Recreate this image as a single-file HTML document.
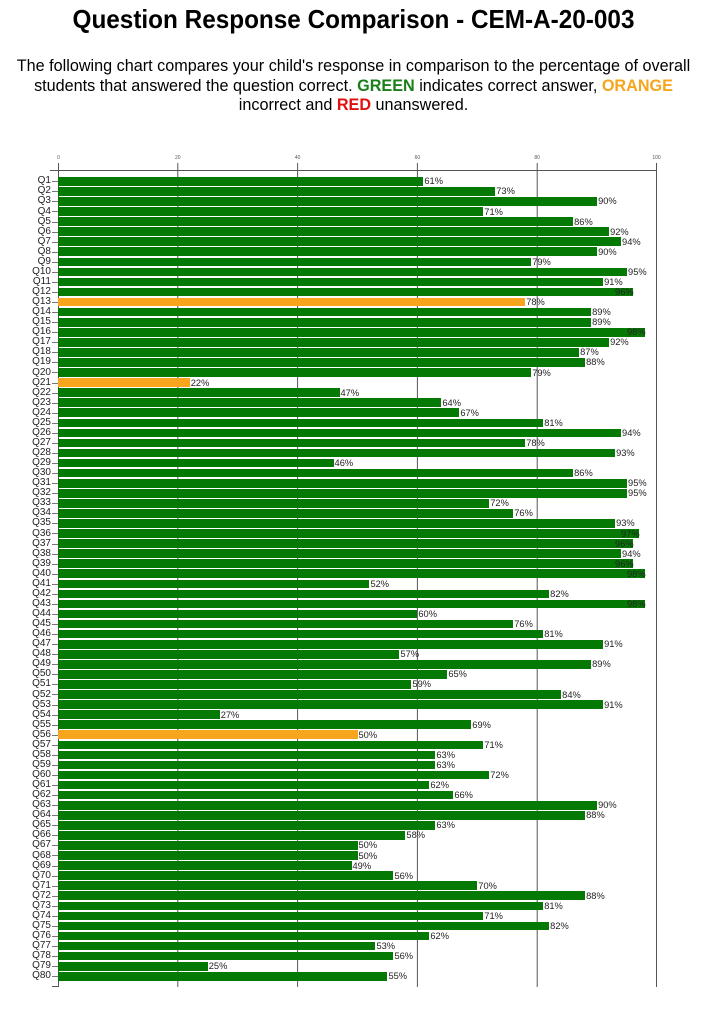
<!DOCTYPE html>
<html><head><meta charset="utf-8"><style>
body{margin:0;width:707px;height:1024px;background:#fff;position:relative;overflow:hidden;font-family:"Liberation Sans",sans-serif;color:#000}
.t{position:absolute;left:0;width:707px;text-align:center;white-space:nowrap}
.t span.s{display:inline-block;transform-origin:center}
#title{top:4px;font-size:26px;font-weight:bold}
#title span.s{transform:scaleX(0.935)}
.sub{font-size:16.2px;line-height:19.5px}
.sub span.s{transform:scaleX(1.0)}
#chart{position:absolute;left:58px;top:176.3px;width:599px}
.r{height:10.063px;display:flex;align-items:center;position:relative}
.r b{position:absolute;left:-40px;width:33px;text-align:right;font-weight:normal;font-size:10px;line-height:10px;color:#222}
.r:before{content:"";position:absolute;left:-6px;width:6px;top:5px;height:1px;background:#777}
.r i{display:block;height:8.6px;background:#047a04;flex:none}
.r i.o{background:#f7a51c}
.r span{font-size:9.3px;margin-left:1px;color:#222;white-space:nowrap}
</style></head><body>
<svg style="position:absolute;left:0;top:0" width="707" height="1024">
<g stroke="#555" stroke-width="1">
<line x1="50" y1="170.5" x2="657" y2="170.5"/>
<line x1="58.5" y1="163" x2="58.5" y2="987"/>
<line x1="177.8" y1="163" x2="177.8" y2="987"/>
<line x1="297.6" y1="163" x2="297.6" y2="987"/>
<line x1="417.4" y1="163" x2="417.4" y2="987"/>
<line x1="537.2" y1="163" x2="537.2" y2="987"/>
<line x1="656.5" y1="163" x2="656.5" y2="987"/>
<line x1="52" y1="986.5" x2="58" y2="986.5"/>
</g>
<g font-size="5" fill="#555" text-anchor="middle" font-family="Liberation Sans,sans-serif">
<text x="58.5" y="159">0</text><text x="177.8" y="159">20</text><text x="297.6" y="159">40</text><text x="417.4" y="159">60</text><text x="537.2" y="159">80</text><text x="656.5" y="159">100</text>
</g>
</svg>
<div class="t" id="title"><span class="s">Question Response Comparison - CEM-A-20-003</span></div>
<div class="t sub" style="top:57px"><span class="s">The following chart compares your child's response in comparison to the percentage of overall</span></div>
<div class="t sub" style="top:76.5px"><span class="s">students that answered the question correct. <b style="color:#1a7f1a">GREEN</b> indicates correct answer, <b style="color:#f7a51c">ORANGE</b></span></div>
<div class="t sub" style="top:96px"><span class="s">incorrect and <b style="color:#e01010">RED</b> unanswered.</span></div>
<div id="chart">
<div class="r"><b>Q1</b><i style="width:61%"></i><span>61%</span></div>
<div class="r"><b>Q2</b><i style="width:73%"></i><span>73%</span></div>
<div class="r"><b>Q3</b><i style="width:90%"></i><span>90%</span></div>
<div class="r"><b>Q4</b><i style="width:71%"></i><span>71%</span></div>
<div class="r"><b>Q5</b><i style="width:86%"></i><span>86%</span></div>
<div class="r"><b>Q6</b><i style="width:92%"></i><span>92%</span></div>
<div class="r"><b>Q7</b><i style="width:94%"></i><span>94%</span></div>
<div class="r"><b>Q8</b><i style="width:90%"></i><span>90%</span></div>
<div class="r"><b>Q9</b><i style="width:79%"></i><span>79%</span></div>
<div class="r"><b>Q10</b><i style="width:95%"></i><span>95%</span></div>
<div class="r"><b>Q11</b><i style="width:91%"></i><span>91%</span></div>
<div class="r"><b>Q12</b><i style="width:96%"></i><span style="margin-left:-18px">96%</span></div>
<div class="r"><b>Q13</b><i class="o" style="width:78%"></i><span>78%</span></div>
<div class="r"><b>Q14</b><i style="width:89%"></i><span>89%</span></div>
<div class="r"><b>Q15</b><i style="width:89%"></i><span>89%</span></div>
<div class="r"><b>Q16</b><i style="width:98%"></i><span style="margin-left:-18px">98%</span></div>
<div class="r"><b>Q17</b><i style="width:92%"></i><span>92%</span></div>
<div class="r"><b>Q18</b><i style="width:87%"></i><span>87%</span></div>
<div class="r"><b>Q19</b><i style="width:88%"></i><span>88%</span></div>
<div class="r"><b>Q20</b><i style="width:79%"></i><span>79%</span></div>
<div class="r"><b>Q21</b><i class="o" style="width:22%"></i><span>22%</span></div>
<div class="r"><b>Q22</b><i style="width:47%"></i><span>47%</span></div>
<div class="r"><b>Q23</b><i style="width:64%"></i><span>64%</span></div>
<div class="r"><b>Q24</b><i style="width:67%"></i><span>67%</span></div>
<div class="r"><b>Q25</b><i style="width:81%"></i><span>81%</span></div>
<div class="r"><b>Q26</b><i style="width:94%"></i><span>94%</span></div>
<div class="r"><b>Q27</b><i style="width:78%"></i><span>78%</span></div>
<div class="r"><b>Q28</b><i style="width:93%"></i><span>93%</span></div>
<div class="r"><b>Q29</b><i style="width:46%"></i><span>46%</span></div>
<div class="r"><b>Q30</b><i style="width:86%"></i><span>86%</span></div>
<div class="r"><b>Q31</b><i style="width:95%"></i><span>95%</span></div>
<div class="r"><b>Q32</b><i style="width:95%"></i><span>95%</span></div>
<div class="r"><b>Q33</b><i style="width:72%"></i><span>72%</span></div>
<div class="r"><b>Q34</b><i style="width:76%"></i><span>76%</span></div>
<div class="r"><b>Q35</b><i style="width:93%"></i><span>93%</span></div>
<div class="r"><b>Q36</b><i style="width:97%"></i><span style="margin-left:-18px">97%</span></div>
<div class="r"><b>Q37</b><i style="width:96%"></i><span style="margin-left:-18px">96%</span></div>
<div class="r"><b>Q38</b><i style="width:94%"></i><span>94%</span></div>
<div class="r"><b>Q39</b><i style="width:96%"></i><span style="margin-left:-18px">96%</span></div>
<div class="r"><b>Q40</b><i style="width:98%"></i><span style="margin-left:-18px">98%</span></div>
<div class="r"><b>Q41</b><i style="width:52%"></i><span>52%</span></div>
<div class="r"><b>Q42</b><i style="width:82%"></i><span>82%</span></div>
<div class="r"><b>Q43</b><i style="width:98%"></i><span style="margin-left:-18px">98%</span></div>
<div class="r"><b>Q44</b><i style="width:60%"></i><span>60%</span></div>
<div class="r"><b>Q45</b><i style="width:76%"></i><span>76%</span></div>
<div class="r"><b>Q46</b><i style="width:81%"></i><span>81%</span></div>
<div class="r"><b>Q47</b><i style="width:91%"></i><span>91%</span></div>
<div class="r"><b>Q48</b><i style="width:57%"></i><span>57%</span></div>
<div class="r"><b>Q49</b><i style="width:89%"></i><span>89%</span></div>
<div class="r"><b>Q50</b><i style="width:65%"></i><span>65%</span></div>
<div class="r"><b>Q51</b><i style="width:59%"></i><span>59%</span></div>
<div class="r"><b>Q52</b><i style="width:84%"></i><span>84%</span></div>
<div class="r"><b>Q53</b><i style="width:91%"></i><span>91%</span></div>
<div class="r"><b>Q54</b><i style="width:27%"></i><span>27%</span></div>
<div class="r"><b>Q55</b><i style="width:69%"></i><span>69%</span></div>
<div class="r"><b>Q56</b><i class="o" style="width:50%"></i><span>50%</span></div>
<div class="r"><b>Q57</b><i style="width:71%"></i><span>71%</span></div>
<div class="r"><b>Q58</b><i style="width:63%"></i><span>63%</span></div>
<div class="r"><b>Q59</b><i style="width:63%"></i><span>63%</span></div>
<div class="r"><b>Q60</b><i style="width:72%"></i><span>72%</span></div>
<div class="r"><b>Q61</b><i style="width:62%"></i><span>62%</span></div>
<div class="r"><b>Q62</b><i style="width:66%"></i><span>66%</span></div>
<div class="r"><b>Q63</b><i style="width:90%"></i><span>90%</span></div>
<div class="r"><b>Q64</b><i style="width:88%"></i><span>88%</span></div>
<div class="r"><b>Q65</b><i style="width:63%"></i><span>63%</span></div>
<div class="r"><b>Q66</b><i style="width:58%"></i><span>58%</span></div>
<div class="r"><b>Q67</b><i style="width:50%"></i><span>50%</span></div>
<div class="r"><b>Q68</b><i style="width:50%"></i><span>50%</span></div>
<div class="r"><b>Q69</b><i style="width:49%"></i><span>49%</span></div>
<div class="r"><b>Q70</b><i style="width:56%"></i><span>56%</span></div>
<div class="r"><b>Q71</b><i style="width:70%"></i><span>70%</span></div>
<div class="r"><b>Q72</b><i style="width:88%"></i><span>88%</span></div>
<div class="r"><b>Q73</b><i style="width:81%"></i><span>81%</span></div>
<div class="r"><b>Q74</b><i style="width:71%"></i><span>71%</span></div>
<div class="r"><b>Q75</b><i style="width:82%"></i><span>82%</span></div>
<div class="r"><b>Q76</b><i style="width:62%"></i><span>62%</span></div>
<div class="r"><b>Q77</b><i style="width:53%"></i><span>53%</span></div>
<div class="r"><b>Q78</b><i style="width:56%"></i><span>56%</span></div>
<div class="r"><b>Q79</b><i style="width:25%"></i><span>25%</span></div>
<div class="r"><b>Q80</b><i style="width:55%"></i><span>55%</span></div>
</div>
</body></html>
